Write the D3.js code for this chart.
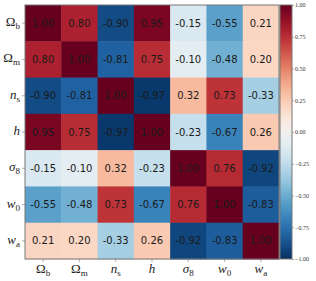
<!DOCTYPE html>
<html>
<head>
<meta charset="utf-8">
<script src="https://cdn.jsdelivr.net/npm/d3@7"></script>
<style>
  body { margin: 0; background: #fff; }
  svg { display: block; }
</style>
</head>
<body>
<div id="chart"></div>
<script>
// parameter names and their labels (symbol, subscript)
var params = ["Ob", "Om", "ns", "h", "s8", "w0", "wa"];
var paramLabels = {
  Ob: ["\u03A9", "b"], Om: ["\u03A9", "m"], ns: ["n", "s"], h: ["h", ""],
  s8: ["\u03C3", "8"], w0: ["w", "0"], wa: ["w", "a"]
};
var corrOb = [1.00, 0.80, -0.90, 0.95, -0.15, -0.55, 0.21];
var corrOm = [0.80, 1.00, -0.81, 0.75, -0.10, -0.48, 0.20];
var corrNs = [-0.90, -0.81, 1.00, -0.97, 0.32, 0.73, -0.33];
var corrH  = [0.95, 0.75, -0.97, 1.00, -0.23, -0.67, 0.26];
var corrS8 = [-0.15, -0.10, 0.32, -0.23, 1.00, 0.76, -0.92];
var corrW0 = [-0.55, -0.48, 0.73, -0.67, 0.76, 1.00, -0.83];
var corrWa = [0.21, 0.20, -0.33, 0.26, -0.92, -0.83, 1.00];
var rows = [corrOb, corrOm, corrNs, corrH, corrS8, corrW0, corrWa];
var cbTicks = [1.00, 0.75, 0.50, 0.25, 0.00, -0.25, -0.50, -0.75, -1.00];

var W = 316, H = 281;
var mLeft = 25, mTop = 5, size = 254;
var cbX = 280, cbW = 12;

var svg = d3.select("#chart").append("svg")
  .attr("width", W).attr("height", H);

var x = d3.scaleBand().domain(params).range([mLeft, mLeft + size]);
var y = d3.scaleBand().domain(params).range([mTop, mTop + size]);
var color = function(v) { return d3.interpolateRdBu((1 - v) / 2); };

var cells = [];
rows.forEach(function(r, i) {
  r.forEach(function(v, j) { cells.push({row: params[i], col: params[j], v: v}); });
});

var g = svg.append("g");
g.selectAll("rect.cell").data(cells).enter().append("rect")
  .attr("class", "cell")
  .attr("x", function(d) { return x(d.col); })
  .attr("y", function(d) { return y(d.row); })
  .attr("width", x.bandwidth() + 0.5)
  .attr("height", y.bandwidth() + 0.5)
  .attr("fill", function(d) { return color(d.v); });

g.selectAll("text.val").data(cells).enter().append("text")
  .attr("class", "val")
  .attr("x", function(d) { return x(d.col) + x.bandwidth() / 2; })
  .attr("y", function(d) { return y(d.row) + y.bandwidth() / 2; })
  .attr("dy", "0.35em")
  .attr("text-anchor", "middle")
  .attr("font-family", "DejaVu Sans")
  .attr("font-size", 10)
  .attr("fill", "#1a1a1a")
  .text(function(d) { return d.v.toFixed(2); });

svg.append("rect")
  .attr("x", mLeft).attr("y", mTop).attr("width", size).attr("height", size)
  .attr("fill", "none").attr("stroke", "#777").attr("stroke-width", 1);

// axis labels with subscripts
function label(sel) {
  sel.each(function(d) {
    var t = d3.select(this);
    var lb = paramLabels[d];
    t.append("tspan").attr("font-style", d === "Ob" || d === "Om" ? "normal" : "italic").text(lb[0]);
    if (lb[1]) {
      t.append("tspan").attr("font-size", 9).attr("dy", 3).text(lb[1]);
    }
  });
}

var xAxis = svg.append("g");
xAxis.selectAll("line").data(params).enter().append("line")
  .attr("x1", function(d) { return x(d) + x.bandwidth() / 2; })
  .attr("x2", function(d) { return x(d) + x.bandwidth() / 2; })
  .attr("y1", mTop + size).attr("y2", mTop + size + 3)
  .attr("stroke", "#777").attr("stroke-width", 0.6);
xAxis.selectAll("text").data(params).enter().append("text")
  .attr("x", function(d) { return x(d) + x.bandwidth() / 2; })
  .attr("y", mTop + size + 14)
  .attr("text-anchor", "middle")
  .attr("font-family", "Liberation Serif")
  .attr("font-size", 13)
  .attr("fill", "#222")
  .call(label);

var yAxis = svg.append("g");
yAxis.selectAll("line").data(params).enter().append("line")
  .attr("y1", function(d) { return y(d) + y.bandwidth() / 2; })
  .attr("y2", function(d) { return y(d) + y.bandwidth() / 2; })
  .attr("x1", mLeft - 3).attr("x2", mLeft)
  .attr("stroke", "#777").attr("stroke-width", 0.6);
yAxis.selectAll("text").data(params).enter().append("text")
  .attr("x", mLeft - 5)
  .attr("y", function(d) { return y(d) + y.bandwidth() / 2 + 3; })
  .attr("text-anchor", "end")
  .attr("font-family", "Liberation Serif")
  .attr("font-size", 13)
  .attr("fill", "#222")
  .call(label);

// colorbar
var defs = svg.append("defs");
var grad = defs.append("linearGradient").attr("id", "cb")
  .attr("x1", 0).attr("y1", 1).attr("x2", 0).attr("y2", 0);
d3.range(0, 1.0001, 0.05).forEach(function(t) {
  grad.append("stop").attr("offset", t).attr("stop-color", color(-1 + 2 * t));
});
var cy = d3.scaleLinear().domain([-1, 1]).range([mTop + size, mTop]);
svg.append("rect")
  .attr("x", cbX).attr("y", mTop).attr("width", cbW).attr("height", size)
  .attr("fill", "url(#cb)").attr("stroke", "#777").attr("stroke-width", 1);
var cbAxis = svg.append("g").attr("transform", "translate(" + (cbX + cbW) + ",0)")
  .call(d3.axisRight(cy).tickValues(cbTicks).tickSize(2).tickFormat(d3.format(".2f")));
cbAxis.select(".domain").remove();
cbAxis.selectAll("line").attr("stroke", "#777").attr("stroke-width", 0.6);
cbAxis.selectAll("text")
  .attr("font-family", "Liberation Serif").attr("font-size", 6).attr("fill", "#333").attr("x", 3);
</script>
</body>
</html>
